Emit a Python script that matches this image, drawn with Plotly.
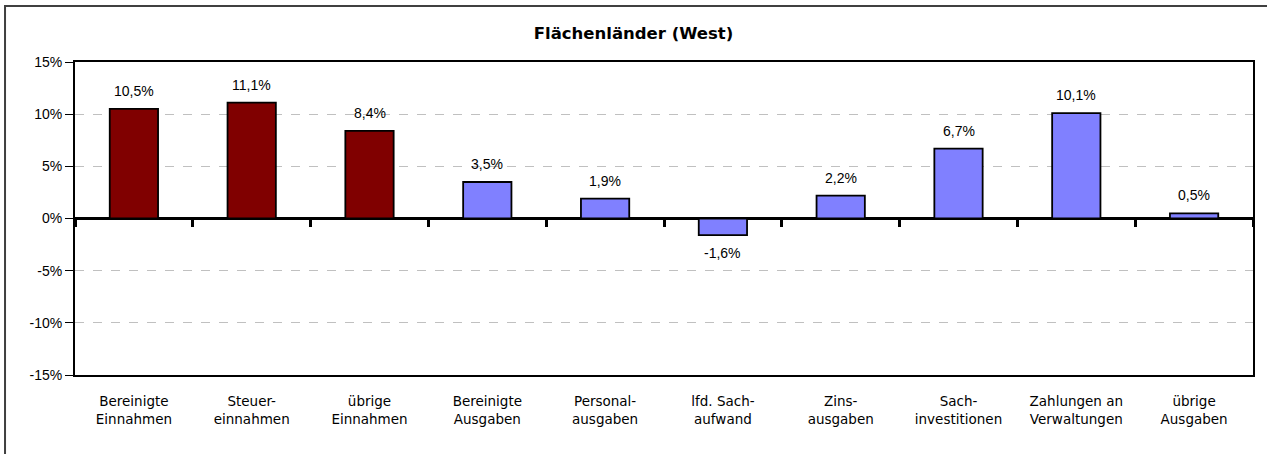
import plotly.graph_objects as go

categories = ["Bereinigte<br>Einnahmen", "Steuer-<br>einnahmen", "übrige<br>Einnahmen",
              "Bereinigte<br>Ausgaben", "Personal-<br>ausgaben", "lfd. Sach-<br>aufwand",
              "Zins-<br>ausgaben", "Sach-<br>investitionen", "Zahlungen an<br>Verwaltungen",
              "übrige<br>Ausgaben"]
values = [10.5, 11.1, 8.4, 3.5, 1.9, -1.6, 2.2, 6.7, 10.1, 0.5]
colors = ["#800000"] * 3 + ["#8080FF"] * 7
y_ticks = [15, 10, 5, 0, -5, -10, -15]
y_labels = ["15%", "10%", "5%", "0%", "-5%", "-10%", "-15%"]
title = "Flächenländer (West)"

FONT = "Liberation Sans, Arial, sans-serif"
WIDE = "DejaVu Sans, sans-serif"
idx = list(range(len(categories)))

fig = go.Figure()
fig.add_trace(go.Bar(
    x=idx, y=values, marker=dict(color=colors, line=dict(color="black", width=1.8)),
    width=0.41, showlegend=False, hoverinfo="skip"))
# invisible trace for the category separator axis
fig.add_trace(go.Scatter(x=[idx[0], idx[-1]], y=[0, 0], xaxis="x2", mode="markers",
                         marker=dict(opacity=0), showlegend=False, hoverinfo="skip"))

for i, v in enumerate(values):
    fig.add_annotation(x=i, y=v, text=f"{v:.1f}%".replace(".", ","), showarrow=False,
                       yshift=18 if v >= 0 else -18,
                       font=dict(family=FONT, size=14, color="black"))

fig.update_layout(
    width=1267, height=454,
    margin=dict(l=75, r=12, t=62, b=79),
    paper_bgcolor="white", plot_bgcolor="white",
    title=dict(text="<b>" + title + "</b>", x=0.5, xanchor="center", y=0.927, yanchor="middle",
               font=dict(family=WIDE, size=16.5, color="black")),
    bargap=0.59,
    xaxis=dict(range=[-0.5, len(categories) - 0.5], tickvals=idx, ticktext=categories,
               showgrid=False, zeroline=False, showline=True, linecolor="black", linewidth=2,
               mirror=True, ticks="outside", ticklen=13, tickcolor="rgba(0,0,0,0)",
               tickfont=dict(family=WIDE, size=13.5, color="black")),
    xaxis2=dict(range=[-0.5, len(categories) - 0.5], overlaying="x", anchor="free", position=0.5,
                side="bottom", showline=False, showgrid=False, zeroline=False,
                tickvals=[i - 0.5 for i in range(len(categories) + 1)], ticks="outside",
                ticklen=7, tickwidth=3, tickcolor="black", showticklabels=False),
    yaxis=dict(range=[-15, 15], tickvals=y_ticks, ticktext=y_labels,
               showgrid=True, gridcolor="#C0C0C0", griddash="dash", gridwidth=1,
               zeroline=True, zerolinecolor="black", zerolinewidth=3,
               showline=True, linecolor="black", linewidth=2, mirror=True,
               ticks="outside", ticklen=8, tickcolor="black",
               tickfont=dict(family=FONT, size=14, color="black")),
    shapes=[dict(type="rect", xref="paper", yref="paper", x0=-0.0594, x1=1.05, y0=-0.4, y1=1.179,
                 line=dict(color="#404040", width=2), fillcolor="rgba(0,0,0,0)", layer="below")],
)

fig.write_html("out.html", config={"displayModeBar": False},
               post_script="document.body.style.margin='0';")
